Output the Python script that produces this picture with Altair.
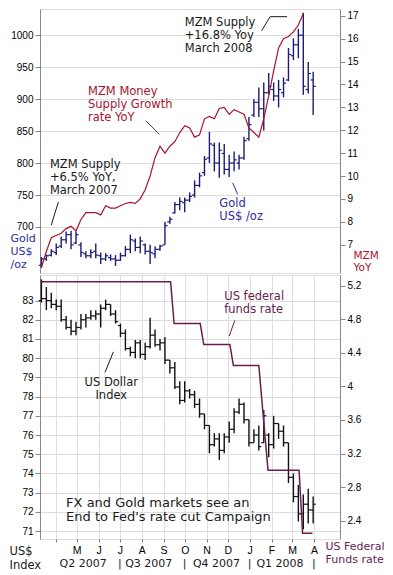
import altair as alt
import pandas as pd

FONT = "DejaVu Sans"
GOLD_C = "#1c1c78"
RED_C = "#a8142f"
FED_C = "#6b1d50"
TXT_C = "#1a1a1a"
BLUE_T = "#2e2e9c"

# ---------------- data ----------------
week_dates = [d.strftime("%Y-%m-%d") for d in pd.date_range("2007-03-12", periods=56, freq="7D")]

gold_open = [640, 650, 656, 660, 670, 680, 688, 675, 672, 658, 655, 662, 655, 650, 652, 650, 648, 655, 665, 678,
             668, 672, 662, 658, 665, 672, 708, 722, 735, 738, 742, 750, 765, 785, 808, 828, 800, 815, 790, 800,
             800, 808, 838, 875, 895, 885, 910, 915, 905, 910, 930, 968, 985, 1000, 915, 930]
gold_high = [653, 657, 665, 674, 685, 693, 694, 693, 676, 662, 665, 674, 660, 659, 657, 656, 660, 670, 688, 682,
             685, 674, 672, 670, 672, 708, 716, 739, 746, 746, 754, 773, 785, 811, 849, 832, 832, 830, 813, 818,
             813, 841, 872, 900, 918, 926, 941, 926, 930, 934, 980, 995, 1010, 1035, 958, 943]
gold_low = [636, 647, 654, 656, 667, 674, 665, 673, 653, 651, 651, 651, 642, 647, 647, 639, 647, 654, 659, 662,
            659, 657, 642, 651, 663, 672, 705, 721, 726, 723, 739, 746, 762, 780, 800, 787, 777, 782, 778, 787,
            790, 805, 835, 872, 872, 851, 907, 897, 887, 903, 928, 961, 964, 907, 909, 875]
gold_close = [650, 655, 662, 668, 680, 688, 672, 688, 660, 655, 660, 656, 650, 655, 650, 648, 655, 665, 680, 668,
              678, 662, 660, 665, 670, 702, 712, 735, 740, 742, 748, 765, 780, 806, 830, 800, 820, 790, 800, 805,
              808, 835, 860, 895, 885, 910, 920, 905, 915, 925, 970, 985, 1000, 920, 940, 920]

mzm_yoy = [6.0, 6.7, 7.3, 7.4, 7.5, 7.7, 7.8, 7.6, 8.1, 8.4, 8.4, 8.4, 8.3, 8.7, 8.6, 8.6, 8.7, 8.8, 8.85, 8.8,
           9.0, 9.4, 10.0, 10.8, 11.3, 11.0, 11.3, 11.5, 11.9, 12.2, 12.1, 11.7, 11.8, 12.5, 12.6, 12.5, 12.95, 13.0, 12.7, 12.9,
           12.8, 12.7, 12.1, 11.9, 11.7, 12.5, 13.5, 14.6, 15.6, 16.0, 16.1, 16.3, 16.6, 17.1]

usd_open = [83.0, 83.1, 83.0, 82.8, 82.7, 82.0, 81.6, 81.4, 81.6, 82.0, 82.1, 82.2, 82.3, 82.6, 82.8, 82.3, 81.7, 81.3, 80.5, 80.3,
            80.8, 80.2, 80.6, 81.2, 80.7, 80.8, 79.9, 79.5, 78.5, 77.8, 78.3, 78.1, 77.6, 77.1, 76.5, 75.5, 75.8, 75.2, 75.9, 76.3,
            77.2, 77.6, 76.8, 75.6, 76.0, 75.6, 76.0, 75.5, 76.6, 76.2, 75.6, 73.8, 72.8, 71.9, 72.4, 72.1]
usd_high = [84.1, 83.7, 83.4, 83.05, 83.05, 82.2, 82.0, 81.9, 82.3, 82.3, 82.5, 82.5, 82.8, 83.05, 82.8, 82.5, 81.8, 81.5, 80.6, 80.95,
            80.95, 80.8, 82.1, 81.5, 81.0, 81.1, 79.9, 79.8, 78.8, 78.8, 78.4, 78.3, 77.9, 77.1, 76.5, 76.1, 76.1, 76.1, 76.7, 77.4,
            77.9, 77.7, 76.8, 76.3, 76.5, 77.3, 76.1, 77.0, 76.6, 76.5, 75.6, 74.0, 73.4, 72.9, 73.2, 72.8]
usd_low = [82.9, 82.5, 82.6, 82.5, 81.9, 81.5, 81.2, 81.2, 81.5, 81.6, 82.0, 82.0, 81.6, 82.5, 82.2, 81.8, 81.1, 80.4, 80.1, 80.0,
           80.0, 79.9, 80.5, 80.6, 80.4, 79.7, 79.2, 78.4, 77.6, 77.7, 77.9, 77.4, 76.9, 76.3, 75.05, 75.4, 74.7, 75.05, 75.6, 76.1,
           77.1, 76.6, 75.4, 75.6, 75.2, 75.6, 74.85, 75.3, 75.8, 75.4, 73.5, 72.5, 71.5, 71.1, 71.4, 71.4]
usd_close = [83.1, 83.0, 82.8, 82.7, 82.0, 81.6, 81.4, 81.6, 82.0, 82.1, 82.2, 82.3, 82.6, 82.8, 82.3, 81.9, 81.3, 80.5, 80.3, 80.8,
             80.2, 80.6, 81.2, 80.7, 80.8, 79.9, 79.5, 78.5, 77.8, 78.3, 78.1, 77.6, 77.1, 76.5, 75.5, 75.8, 75.2, 75.9, 76.3, 77.2,
             77.6, 76.8, 75.6, 76.0, 75.4, 77.0, 75.5, 76.6, 76.2, 75.6, 73.8, 72.8, 71.9, 72.4, 72.1, 72.4]

fed_dates = ["2007-03-12", "2007-09-11", "2007-09-16", "2007-10-23", "2007-10-28", "2007-12-04",
             "2007-12-09", "2008-01-14", "2008-01-27", "2008-03-11", "2008-03-16", "2008-03-30"]
fed_rate = [5.25, 5.25, 4.75, 4.75, 4.5, 4.5, 4.25, 4.25, 3.0, 3.0, 2.25, 2.25]

# annotations (top panel, gold scale)
top_ann_text = ["MZM Supply\n+6.5% YoY,\nMarch 2007", "MZM Money\nSupply Growth\nrate YoY",
                "MZM Supply\n+16.8% Yoy\nMarch 2008", "Gold\nUS$ /oz"]
top_ann_date = ["2007-03-24", "2007-05-17", "2007-10-01", "2007-11-19"]
top_ann_value = [806, 920, 1029, 745]
top_ann_color = [TXT_C, RED_C, TXT_C, BLUE_T]

top_ptr_x1 = ["2007-04-05", "2007-08-07", "2008-01-18", "2008-01-30", "2007-12-08"]
top_ptr_x2 = ["2007-03-26", "2007-08-26", "2008-01-30", "2008-02-23", "2007-12-15"]
top_ptr_y1 = [739, 866, 1007, 1029, 769]
top_ptr_y2 = [703, 845, 1029, 1029, 751]
top_ptr_color = [TXT_C, "#444444", TXT_C, TXT_C, BLUE_T]

# annotations (bottom panel, dollar scale)
bot_ann_text = ["US federal\nfunds rate"]
bot_ann_date = ["2007-11-26"]
bot_ann_value = [83.5]
bot_ann_color = [FED_C]

usd_label_text = ["US Dollar\nIndex"]
usd_label_date = ["2007-06-19"]
usd_label_value = [79.0]

note_text = ["FX and Gold markets see an\nEnd to Fed's rate cut Campaign"]
note_date = ["2007-04-16"]
note_value = [72.8]

bot_ptr_x1 = ["2007-06-22", "2007-12-11"]
bot_ptr_x2 = ["2007-06-10", "2007-12-03"]
bot_ptr_y1 = [80.33, 81.97]
bot_ptr_y2 = [79.26, 81.15]
bot_ptr_color = [TXT_C, FED_C]

quarter_labels = ["Q2 2007", "Q3 2007", "Q4 2007", "Q1 2008"]
quarter_mid = ["2007-05-10", "2007-08-11", "2007-11-15", "2008-02-13"]
quarter_sep = ["2007-07-01", "2007-10-01", "2008-01-01", "2008-04-01"]
month_ticks = [(2007, 4), (2007, 5), (2007, 6), (2007, 7), (2007, 8), (2007, 9), (2007, 10),
               (2007, 11), (2007, 12), (2008, 1), (2008, 2), (2008, 3), (2008, 4)]

# ---------------- tables ----------------
gold_df = pd.DataFrame(dict(date=week_dates, open=gold_open, high=gold_high, low=gold_low, close=gold_close))
mzm_df = pd.DataFrame(dict(date=week_dates[:len(mzm_yoy)], mzm=mzm_yoy))
usd_df = pd.DataFrame(dict(date=week_dates, open=usd_open, high=usd_high, low=usd_low, close=usd_close))
fed_df = pd.DataFrame(dict(date=fed_dates, rate=fed_rate))
top_ann_df = pd.DataFrame(dict(date=top_ann_date, value=top_ann_value, text=top_ann_text, color=top_ann_color))
top_ptr_df = pd.DataFrame(dict(x1=top_ptr_x1, x2=top_ptr_x2, y1=top_ptr_y1, y2=top_ptr_y2, color=top_ptr_color))
bot_ann_df = pd.DataFrame(dict(date=bot_ann_date, value=bot_ann_value, text=bot_ann_text, color=bot_ann_color))
usd_label_df = pd.DataFrame(dict(date=usd_label_date, value=usd_label_value, text=usd_label_text))
note_df = pd.DataFrame(dict(date=note_date, value=note_value, text=note_text))
bot_ptr_df = pd.DataFrame(dict(x1=bot_ptr_x1, x2=bot_ptr_x2, y1=bot_ptr_y1, y2=bot_ptr_y2, color=bot_ptr_color))
q_df = pd.DataFrame(dict(date=quarter_mid, text=quarter_labels))
sep_df = pd.DataFrame(dict(date=quarter_sep, text=["|"] * len(quarter_sep)))

# ---------------- scales / axes ----------------
W = 300
H = 264
xscale = alt.Scale(type="utc", domain=[alt.DateTime(year=2007, month=3, date=10, utc=True),
                                       alt.DateTime(year=2008, month=5, date=8, utc=True)])
gold_scale = alt.Scale(domain=[628, 1041], nice=False, zero=False)
mzm_scale = alt.Scale(domain=[5.76, 17.3], nice=False, zero=False)
usd_scale = alt.Scale(domain=[70.59, 84.33], nice=False, zero=False)
fed_scale = alt.Scale(domain=[2.18, 5.33], nice=False, zero=False)

TITLE_KW = dict(titleAngle=0, titleAlign="left", titleBaseline="top", titleFont=FONT,
                titleFontWeight="normal")

gold_axis = alt.Axis(values=[700, 750, 800, 850, 900, 950, 1000], format="d",
                     title=["Gold", "US$", "/oz"], titleX=-30, titleY=223, titleColor=BLUE_T,
                     titleLineHeight=13, titleFontSize=11, **TITLE_KW)
mzm_axis = alt.Axis(orient="right", values=list(range(7, 18)),
                    title=["MZM", "YoY"], titleX=13, titleY=241, titleColor=RED_C,
                    titleLineHeight=12, titleFontSize=10.5, **TITLE_KW)
usd_axis = alt.Axis(values=list(range(71, 84)), format="d",
                    title=["US$", "Index"], titleX=-31, titleY=270, titleColor=TXT_C,
                    titleLineHeight=14, titleFontSize=11.5, **TITLE_KW)
fed_axis = alt.Axis(orient="right", values=[2.4, 2.8, 3.2, 3.6, 4, 4.4, 4.8, 5.2], format="~g",
                    title=["US Federal", "Funds rate"], titleX=-15, titleY=265, titleColor=FED_C,
                    titleLineHeight=13, titleFontSize=11, **TITLE_KW)
month_vals = [alt.DateTime(year=y, month=m, date=1, utc=True) for (y, m) in month_ticks]
x_axis = alt.Axis(values=month_vals, title=None, domain=False, tickSize=3, tickColor="#777777",
                  labelExpr="(utcyear(datum.value)==2007 && utcmonth(datum.value)==3) ? '' : "
                            "substring(utcFormat(datum.value, '%b'), 0, 1)",
                  labelFontSize=10.5, labelPadding=3, labelFlush=False, labelOverlap=False)


def X(field, xaxis):
    return alt.X(f"{field}:T", scale=xscale, axis=xaxis)


def ohlc(df, yscale, color, yaxis, xaxis):
    base = alt.Chart(df)
    hl = base.mark_rule(color=color, strokeWidth=1.4).encode(
        x=X("date", xaxis), y=alt.Y("low:Q", scale=yscale, axis=yaxis), y2="high:Q")
    op = base.mark_rule(color=color, strokeWidth=1.2, xOffset=-2.6).encode(
        x=X("date", xaxis), x2="date:T", y=alt.Y("open:Q", scale=yscale, axis=yaxis))
    cl = base.mark_rule(color=color, strokeWidth=1.2, x2Offset=2.6).encode(
        x=X("date", xaxis), x2="date:T", y=alt.Y("close:Q", scale=yscale, axis=yaxis))
    return [hl, op, cl]


def texts(df, yscale, yaxis, xaxis, size, align="left", color=None, lh=13):
    enc = dict(x=X("date", xaxis), y=alt.Y("value:Q", scale=yscale, axis=yaxis), text="text:N")
    kw = dict(align=align, baseline="top", font=FONT, fontSize=size, lineBreak="\n", lineHeight=lh)
    if color is None:
        enc["color"] = alt.Color("color:N", scale=None)
    else:
        kw["color"] = color
    return alt.Chart(df).mark_text(**kw).encode(**enc)


def pointers(df, yscale, yaxis, xaxis):
    return alt.Chart(df).mark_rule(strokeWidth=1).encode(
        x=X("x1", xaxis), x2="x2:T", y=alt.Y("y1:Q", scale=yscale, axis=yaxis), y2="y2:Q",
        color=alt.Color("color:N", scale=None))


# ---------------- top panel ----------------
left_top = alt.layer(*ohlc(gold_df, gold_scale, GOLD_C, gold_axis, None),
                     texts(top_ann_df, gold_scale, gold_axis, None, 11.5),
                     pointers(top_ptr_df, gold_scale, gold_axis, None))
mzm_line = alt.Chart(mzm_df).mark_line(color=RED_C, strokeWidth=1.2).encode(
    x=X("date", None), y=alt.Y("mzm:Q", scale=mzm_scale, axis=mzm_axis))
top = alt.layer(left_top, mzm_line).resolve_scale(y="independent").properties(width=W, height=H)

# ---------------- bottom panel ----------------
q_layer = alt.Chart(q_df).mark_text(font=FONT, fontSize=11, color=TXT_C, baseline="middle").encode(
    x=X("date", x_axis), y=alt.value(H + 25), text="text:N")
sep_layer = alt.Chart(sep_df).mark_text(font=FONT, fontSize=11, color=TXT_C, baseline="middle").encode(
    x=X("date", x_axis), y=alt.value(H + 25), text="text:N")

left_bot = alt.layer(*ohlc(usd_df, usd_scale, "#111111", usd_axis, x_axis),
                     texts(bot_ann_df, usd_scale, usd_axis, x_axis, 11.5),
                     texts(usd_label_df, usd_scale, usd_axis, x_axis, 11.5, align="center", color=TXT_C),
                     texts(note_df, usd_scale, usd_axis, x_axis, 13, color=TXT_C, lh=14),
                     pointers(bot_ptr_df, usd_scale, usd_axis, x_axis),
                     q_layer, sep_layer)
fed_line = alt.Chart(fed_df).mark_line(color=FED_C, strokeWidth=1.5).encode(
    x=X("date", x_axis), y=alt.Y("rate:Q", scale=fed_scale, axis=fed_axis))
bottom = alt.layer(left_bot, fed_line).resolve_scale(y="independent").properties(width=W, height=H)

chart = alt.vconcat(top, bottom, spacing=0).properties(
    padding={"left": 0, "top": 0, "right": 0, "bottom": 0}
).configure_view(stroke="#efd9b7", strokeWidth=1).configure_axis(
    labelFont=FONT, labelFontSize=10, labelColor="#222222", tickColor="#333333", tickSize=3,
    labelPadding=2, domain=False, grid=False, titleFont=FONT, titleFontWeight="normal"
).configure(background="white")

chart.save("out.html", embed_options={"renderer": "svg", "actions": False})
